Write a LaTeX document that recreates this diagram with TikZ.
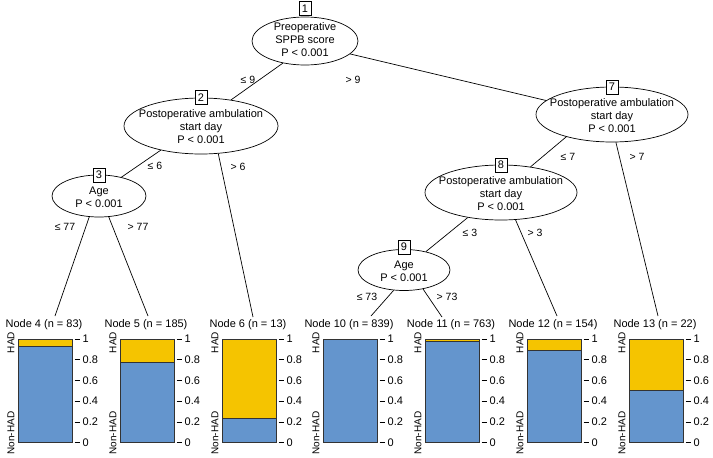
\documentclass[tikz,border=0pt]{standalone}
\usepackage{fontspec}
\setmainfont{Liberation Sans}
\usetikzlibrary{shapes.geometric}
\definecolor{yel}{HTML}{F5C400}
\definecolor{blu}{HTML}{6495CD}
\begin{document}
\begin{tikzpicture}[x=1pt,y=-1pt,
  ell/.style={draw, ellipse, inner sep=0pt, line width=0.7pt},
  numbox/.style={draw, fill=white, inner sep=0pt, minimum width=12pt, minimum height=14pt, line width=0.7pt, font=\fontsize{11}{13}\selectfont},
  ntext/.style={align=center, inner sep=0pt, font=\fontsize{11}{13}\selectfont},
  edge/.style={line width=0.7pt},
  elab/.style={inner sep=0pt, font=\fontsize{10.5}{12}\selectfont},
  ttl/.style={inner sep=0pt, font=\fontsize{11}{13}\selectfont},
  ylab/.style={inner sep=0pt, rotate=90, font=\fontsize{10}{12}\selectfont},
  tickline/.style={line width=0.6pt},
  ticklab/.style={anchor=west, inner sep=0pt, font=\fontsize{11}{13}\selectfont},
  barbox/.style={draw=black!80, line width=0.7pt}]
\useasboundingbox (0,0) rectangle (713,458);
\fill[white] (0,0) rectangle (713,458);

% inner nodes
\node[ell, minimum width=106pt, minimum height=48pt] (n1) at (305,41) {};
\node[ntext] (n1t) at (305,40) {Preoperative\\SPPB score\\P < 0.001};
\node[ell, minimum width=154pt, minimum height=56pt] (n2) at (201,126) {};
\node[ntext] (n2t) at (201,127) {Postoperative ambulation\\start day\\P < 0.001};
\node[ell, minimum width=94pt, minimum height=42pt] (n3) at (99,196) {};
\node[ntext] (n3t) at (99,197) {Age\\P < 0.001};
\node[ell, minimum width=152pt, minimum height=55pt] (n7) at (612,114.5) {};
\node[ntext] (n7t) at (612,116) {Postoperative ambulation\\start day\\P < 0.001};
\node[ell, minimum width=152pt, minimum height=55pt] (n8) at (501,192.5) {};
\node[ntext] (n8t) at (501,194) {Postoperative ambulation\\start day\\P < 0.001};
\node[ell, minimum width=92pt, minimum height=41pt] (n9) at (404,270) {};
\node[ntext] (n9t) at (404,271) {Age\\P < 0.001};

% edge end points above the terminal panels
\coordinate (e4) at (55,316);
\coordinate (e5) at (148,316);
\coordinate (e6) at (253,317);
\coordinate (e10) at (371,316);
\coordinate (e11) at (442,317);
\coordinate (e12) at (557,316);
\coordinate (e13) at (658,316);

% edges
\draw[edge] (n1.225) -- (n2.41);
\draw[edge] (n1.344) -- (n7.168);
\draw[edge] (n2.211) -- (n3.40);
\draw[edge] (n2.302) -- (e6);
\draw[edge] (n3.245) -- (e4);
\draw[edge] (n3.295) -- (e5);
\draw[edge] (n7.206) -- (n8.41);
\draw[edge] (n7.278) -- (e13);
\draw[edge] (n8.217) -- (n9.40);
\draw[edge] (n8.298) -- (e12);
\draw[edge] (n9.243) -- (e10);
\draw[edge] (n9.315) -- (e11);

% number boxes
\node[numbox] (b1) at (305,8.5) {1};
\node[numbox] (b2) at (201,97.5) {2};
\node[numbox] (b3) at (99,175) {3};
\node[numbox] (b7) at (612,87) {7};
\node[numbox] (b8) at (501,165) {8};
\node[numbox] (b9) at (404,247) {9};

% edge labels
\node[elab] (l1a) at (248,80) {≤ 9};
\node[elab] (l1b) at (353,80) {> 9};
\node[elab] (l2a) at (155,166) {≤ 6};
\node[elab] (l2b) at (238,167) {> 6};
\node[elab] (l3a) at (65,227) {≤ 77};
\node[elab] (l3b) at (138,227) {> 77};
\node[elab] (l7a) at (568,157) {≤ 7};
\node[elab] (l7b) at (637,157) {> 7};
\node[elab] (l8a) at (470,233) {≤ 3};
\node[elab] (l8b) at (535,233) {> 3};
\node[elab] (l9a) at (367,297) {≤ 73};
\node[elab] (l9b) at (447,297) {> 73};

% terminal panels
\foreach \L/\p/\k/\t in {18/0.072/4/{Node 4 (n = 83)},
                         120/0.222/5/{Node 5 (n = 185)},
                         222/0.769/6/{Node 6 (n = 13)},
                         323/0.004/10/{Node 10 (n = 839)},
                         425/0.026/11/{Node 11 (n = 763)},
                         527/0.11/12/{Node 12 (n = 154)},
                         629/0.5/13/{Node 13 (n = 22)}}{
  \pgfmathsetmacro\R{\L+54.5}
  \pgfmathsetmacro\Y{339+103.5*\p}
  \fill[blu] (\L,339) rectangle (\R,442.5);
  \fill[yel] (\L,339) rectangle (\R,\Y);
  \draw[barbox] (\L,\Y) -- (\R,\Y);
  \draw[barbox] (\L,339) rectangle (\R,442.5);
  \node[ttl] (t\k) at ({\L+26},325) {\t};
  \node[ylab] (h\k) at ({\L-7},342.5) {HAD};
  \node[ylab] (nh\k) at ({\L-7},433) {Non-HAD};
  \foreach \v in {0,0.2,0.4,0.6,0.8,1}{
    \draw[tickline] ({\R+2},{442.5-103.5*\v}) -- ({\R+7},{442.5-103.5*\v});
    \node[ticklab] at ({\R+10},{442.5-103.5*\v}) {\v};
  }
}
\end{tikzpicture}
\end{document}
